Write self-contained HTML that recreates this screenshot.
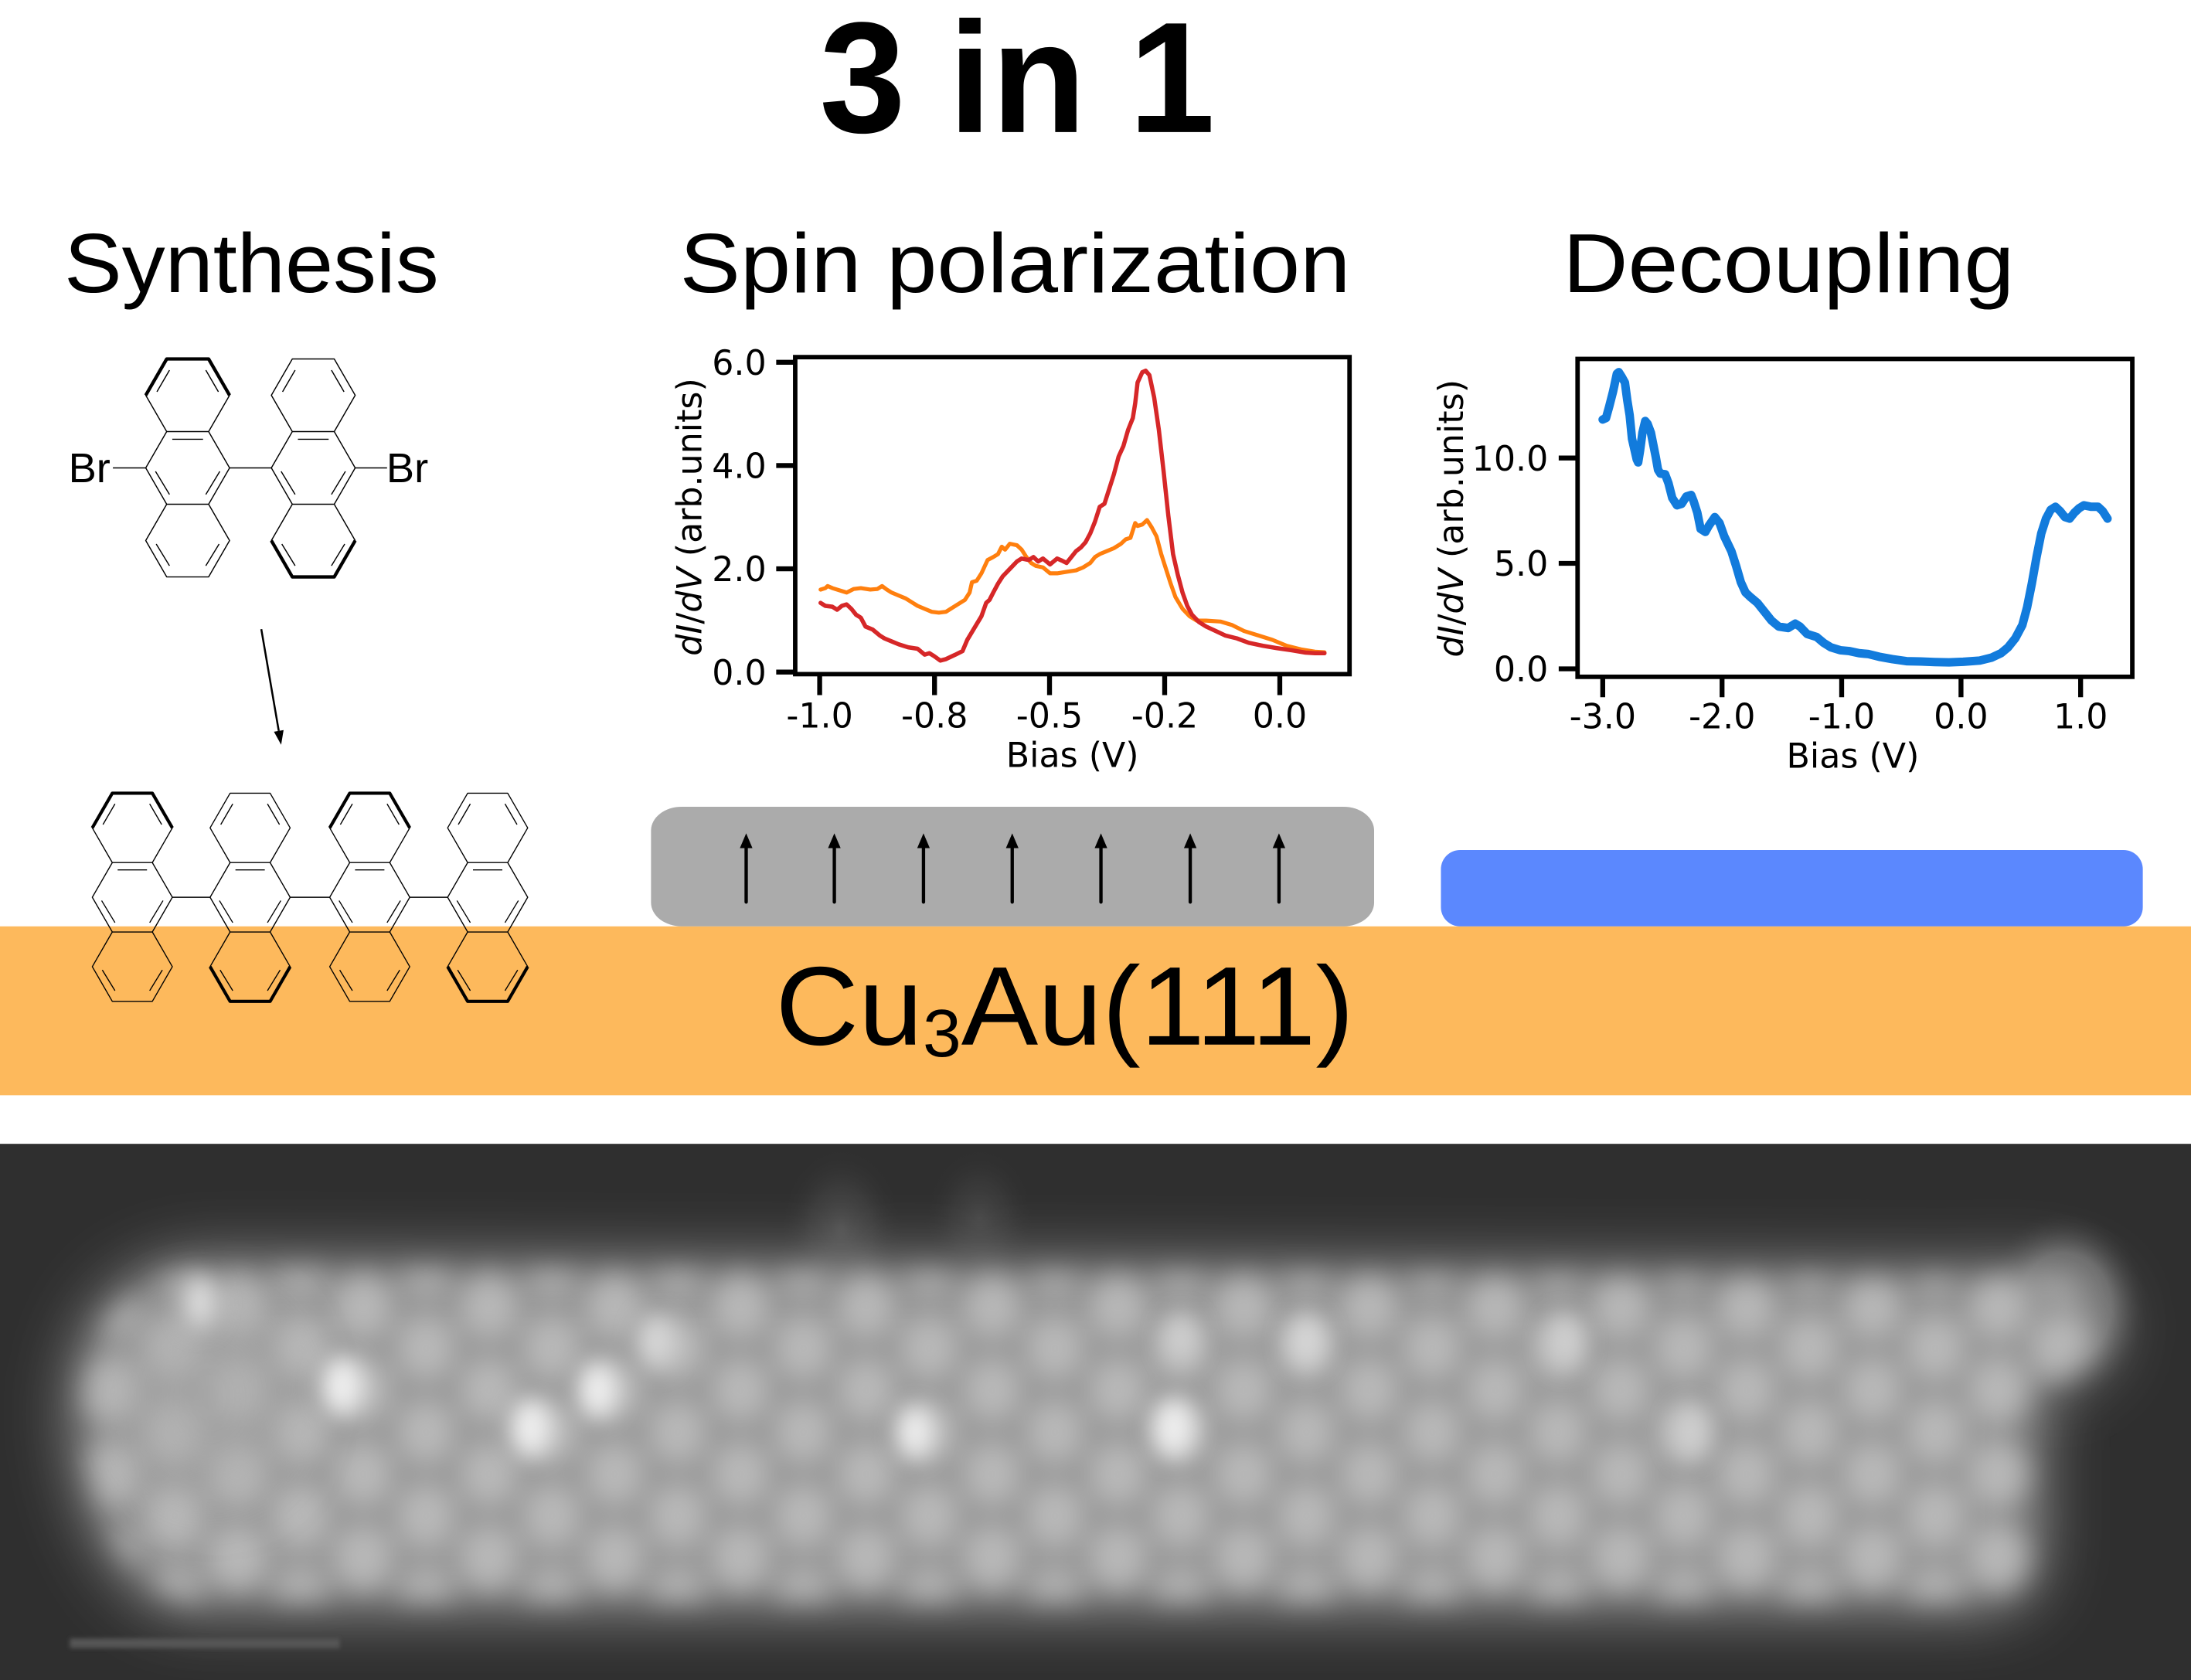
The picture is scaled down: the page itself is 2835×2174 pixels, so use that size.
<!DOCTYPE html>
<html>
<head>
<meta charset="utf-8">
<style>
html,body{margin:0;padding:0;background:#ffffff;}
svg{display:block;}
.tk{font-family:"DejaVu Sans","Liberation Sans",sans-serif;font-size:24.5px;fill:#000;}
.hd{font-family:"Liberation Sans",sans-serif;fill:#000;}
</style>
</head>
<body>
<svg width="2835" height="2174" viewBox="0 0 1568 1202.4" preserveAspectRatio="none">
<defs>
  <filter id="bBig" filterUnits="userSpaceOnUse" x="-100" y="760" width="1770" height="500"><feGaussianBlur stdDeviation="22"/></filter>
  <filter id="bMed" filterUnits="userSpaceOnUse" x="-100" y="760" width="1770" height="500"><feGaussianBlur stdDeviation="10"/></filter>
  <filter id="bSm" filterUnits="userSpaceOnUse" x="-100" y="760" width="1770" height="500"><feGaussianBlur stdDeviation="8"/></filter>
  <filter id="bTiny" filterUnits="userSpaceOnUse" x="0" y="1150" width="400" height="50"><feGaussianBlur stdDeviation="1.5"/></filter>
  <radialGradient id="dimA" cx="0.5" cy="0.5" r="0.5">
    <stop offset="0" stop-color="#4e4e4e" stop-opacity="1"/>
    <stop offset="0.5" stop-color="#444444" stop-opacity="0.6"/>
    <stop offset="1" stop-color="#2f2f2f" stop-opacity="0"/>
  </radialGradient>
  <radialGradient id="dimB" cx="0.5" cy="0.5" r="0.5">
    <stop offset="0" stop-color="#464646" stop-opacity="1"/>
    <stop offset="0.5" stop-color="#3e3e3e" stop-opacity="0.6"/>
    <stop offset="1" stop-color="#2f2f2f" stop-opacity="0"/>
  </radialGradient>
  <radialGradient id="dimC" cx="0.5" cy="0.5" r="0.5">
    <stop offset="0" stop-color="#8a8a8a" stop-opacity="1"/>
    <stop offset="0.55" stop-color="#7a7a7a" stop-opacity="0.7"/>
    <stop offset="1" stop-color="#2f2f2f" stop-opacity="0"/>
  </radialGradient>
  <clipPath id="stmClip"><rect x="0" y="818.6" width="1568" height="384"/></clipPath>
  <clipPath id="ribClip"><path d="M60,1010 C60,955 88,915 145,909 L1415,915 C1460,909 1500,920 1500,950 C1500,980 1465,988 1455,1000 L1455,1108 C1455,1135 1435,1145 1400,1145 L145,1145 C88,1145 60,1068 60,1010 Z"/></clipPath>
  <pattern id="blobs" patternUnits="userSpaceOnUse" x="35" y="905" width="90" height="60">
    <ellipse cx="0" cy="0" rx="22" ry="25" fill="#c0c0c0"/>
    <ellipse cx="90" cy="0" rx="22" ry="25" fill="#c0c0c0"/>
    <ellipse cx="0" cy="60" rx="22" ry="25" fill="#c0c0c0"/>
    <ellipse cx="90" cy="60" rx="22" ry="25" fill="#c0c0c0"/>
    <ellipse cx="45" cy="30" rx="22" ry="25" fill="#c0c0c0"/>
  </pattern>
  <g id="anth" fill="none" stroke="#000" stroke-width="0.8" stroke-linejoin="round">
    <path d="M-15,-78 L15,-78 L30,-52 L15,-26 L30,0 L15,26 L30,52 L15,78 L-15,78 L-30,52 L-15,26 L-30,0 L-15,-26 L-30,-52 Z M-15,-26 L15,-26 M-15,26 L15,26"/>
    <path d="M-22,-54.5 L-13,-70 M22,-54.5 L13,-70 M-11,-20.5 L11,-20.5 M-23,2.5 L-13,19 M23,2.5 L13,19 M-22.5,54.5 L-13,70 M22.5,54.5 L13,70"/>
  </g>
  <path id="boldTop" d="M-30,-52 L-15,-78 L15,-78 L30,-52" fill="none" stroke="#000" stroke-width="2.4" stroke-linejoin="round"/>
  <path id="boldBot" d="M-30,52 L-15,78 L15,78 L30,52" fill="none" stroke="#000" stroke-width="2.4" stroke-linejoin="round"/>
</defs>

<!-- background -->
<rect x="0" y="0" width="1568" height="1202.4" fill="#ffffff"/>

<!-- Title -->
<text class="hd" x="728" y="94.5" font-size="113" font-weight="bold" text-anchor="middle" textLength="283" lengthAdjust="spacingAndGlyphs">3 in 1</text>

<!-- Headings -->
<text class="hd" x="180" y="209" font-size="60" text-anchor="middle" textLength="268" lengthAdjust="spacingAndGlyphs">Synthesis</text>
<text class="hd" x="726.5" y="209" font-size="60" text-anchor="middle" textLength="480" lengthAdjust="spacingAndGlyphs">Spin polarization</text>
<text class="hd" x="1280" y="209" font-size="60" text-anchor="middle" textLength="323" lengthAdjust="spacingAndGlyphs">Decoupling</text>

<!-- Orange substrate band -->
<rect x="0" y="663" width="1568" height="120.9" fill="#FDB95C"/>

<!-- Gray spin box -->
<rect x="465.9" y="577.4" width="517.5" height="85.6" rx="22" ry="17" fill="#ABABAB"/>
<g stroke="#000" stroke-width="2.4" stroke-linecap="round">
  <line x1="534" y1="645.6" x2="534" y2="606"/>
  <line x1="597.1" y1="645.6" x2="597.1" y2="606"/>
  <line x1="660.9" y1="645.6" x2="660.9" y2="606"/>
  <line x1="724.4" y1="645.6" x2="724.4" y2="606"/>
  <line x1="787.9" y1="645.6" x2="787.9" y2="606"/>
  <line x1="851.8" y1="645.6" x2="851.8" y2="606"/>
  <line x1="915.3" y1="645.6" x2="915.3" y2="606"/>
</g>
<g fill="#000">
  <polygon points="534,596.4 529.5,607 538.5,607"/>
  <polygon points="597.1,596.4 592.6,607 601.6,607"/>
  <polygon points="660.9,596.4 656.4,607 665.4,607"/>
  <polygon points="724.4,596.4 719.9,607 728.9,607"/>
  <polygon points="787.9,596.4 783.4,607 792.4,607"/>
  <polygon points="851.8,596.4 847.3,607 856.3,607"/>
  <polygon points="915.3,596.4 910.8,607 919.8,607"/>
</g>

<!-- Blue decoupling box -->
<rect x="1031.2" y="608.4" width="502.3" height="54.6" rx="13.7" ry="13.7" fill="#5B88FE"/>

<!-- Cu3Au(111) -->
<text class="hd" x="555" y="747.6" font-size="80" textLength="414" lengthAdjust="spacingAndGlyphs">Cu<tspan font-size="48" dy="8.5">3</tspan><tspan dy="-8.5">Au(111)</tspan></text>

<!-- Synthesis: precursor -->
<use href="#anth" transform="translate(134.3,334.9)"/>
<use href="#boldTop" transform="translate(134.3,334.9)"/>
<use href="#anth" transform="translate(224.2,334.9)"/>
<use href="#boldBot" transform="translate(224.2,334.9)"/>
<g stroke="#000" stroke-width="0.8">
  <line x1="164.3" y1="334.9" x2="194.2" y2="334.9"/>
  <line x1="80.8" y1="334.9" x2="104.3" y2="334.9"/>
  <line x1="254.2" y1="334.9" x2="277" y2="334.9"/>
</g>
<text class="hd" x="49" y="345.1" font-size="30">Br</text>
<text class="hd" x="276.5" y="345.1" font-size="30">Br</text>

<!-- reaction arrow -->
<line x1="187" y1="450.3" x2="199.5" y2="523.1" stroke="#000" stroke-width="1.4"/>
<polygon points="201.2,533 202.95,522.5 196.05,523.7" fill="#000"/>

<!-- Synthesis: oligomer -->
<g>
  <use href="#anth" transform="translate(94.7,642.2) scale(0.955)"/>
  <use href="#boldTop" transform="translate(94.7,642.2) scale(0.955)"/>
  <use href="#anth" transform="translate(179,642.2) scale(0.955)"/>
  <use href="#boldBot" transform="translate(179,642.2) scale(0.955)"/>
  <use href="#anth" transform="translate(264.6,642.2) scale(0.955)"/>
  <use href="#boldTop" transform="translate(264.6,642.2) scale(0.955)"/>
  <use href="#anth" transform="translate(349,642.2) scale(0.955)"/>
  <use href="#boldBot" transform="translate(349,642.2) scale(0.955)"/>
  <g stroke="#000" stroke-width="0.8">
    <line x1="123.35" y1="642.2" x2="150.35" y2="642.2"/>
    <line x1="207.65" y1="642.2" x2="235.95" y2="642.2"/>
    <line x1="293.25" y1="642.2" x2="320.35" y2="642.2"/>
  </g>
</g>

<!-- ============ Chart 1: Spin polarization ============ -->
<g>
  <g transform="matrix(0.3386,0,0,0.2117,453.5,237.8)" fill="none" stroke-linejoin="round" stroke-linecap="round">
    <path vector-effect="non-scaling-stroke" stroke="#ff7f0e" stroke-width="5.2" d="M395,870 L405,865 L410,858 L420,865 L440,875 L450,880 L465,868 L480,865 L500,870 L515,868 L525,858 L535,870 L545,880 L560,890 L575,900 L590,915 L600,925 L615,935 L630,945 L645,948 L660,945 L670,935 L685,920 L700,905 L710,880 L715,845 L725,840 L735,815 L748,770 L760,760 L770,750 L778,725 L785,735 L795,715 L810,720 L820,735 L830,760 L840,780 L850,790 L865,795 L880,815 L895,815 L915,810 L935,805 L950,795 L965,780 L975,760 L985,750 L1000,740 L1015,730 L1030,715 L1040,700 L1050,695 L1060,645 L1065,655 L1075,650 L1085,635 L1095,660 L1105,690 L1115,750 L1125,800 L1135,850 L1145,895 L1160,935 L1175,960 L1190,975 L1210,975 L1240,978 L1265,990 L1290,1010 L1320,1025 L1350,1040 L1380,1060 L1410,1072 L1440,1080 L1460,1082"/>
    <path vector-effect="non-scaling-stroke" stroke="#d62728" stroke-width="5.5" d="M395,915 L405,925 L420,928 L430,938 L440,925 L450,920 L460,935 L470,955 L480,965 L490,995 L505,1005 L520,1025 L530,1035 L545,1045 L560,1055 L580,1065 L600,1070 L615,1090 L625,1085 L635,1095 L648,1110 L660,1105 L680,1090 L695,1078 L705,1040 L720,1000 L735,960 L745,915 L752,905 L760,880 L770,850 L780,825 L795,800 L810,775 L820,765 L835,770 L845,760 L855,775 L865,765 L880,785 L895,765 L905,772 L915,780 L925,760 L935,740 L945,728 L955,710 L965,680 L975,640 L985,590 L995,580 L1005,530 L1015,480 L1025,420 L1035,385 L1045,330 L1055,290 L1060,240 L1065,170 L1075,135 L1082,130 L1090,145 L1100,220 L1110,330 L1120,470 L1130,620 L1140,750 L1150,820 L1160,880 L1170,925 L1180,955 L1195,980 L1210,995 L1230,1010 L1250,1025 L1275,1035 L1300,1050 L1330,1060 L1360,1068 L1390,1075 L1420,1083 L1440,1085 L1460,1085"/>
  </g>
  <rect x="569.1" y="255.6" width="396.7" height="226.9" fill="none" stroke="#000" stroke-width="3.2"/>
  <path d="M555.5,259.3H569.1 M555.5,333.2H569.1 M555.5,407.1H569.1 M555.5,481H569.1" stroke="#000" stroke-width="3.5"/>
  <path d="M586.6,482.5V497.5 M668.8,482.5V497.5 M751.1,482.5V497.5 M833.5,482.5V497.5 M915.9,482.5V497.5" stroke="#000" stroke-width="3.5"/>
  <text class="tk" x="548.5" y="268.2" text-anchor="end">6.0</text>
  <text class="tk" x="548.5" y="342.1" text-anchor="end">4.0</text>
  <text class="tk" x="548.5" y="416" text-anchor="end">2.0</text>
  <text class="tk" x="548.5" y="489.9" text-anchor="end">0.0</text>
  <text class="tk" x="586.6" y="520.8" text-anchor="middle">-1.0</text>
  <text class="tk" x="668.8" y="520.8" text-anchor="middle">-0.8</text>
  <text class="tk" x="751.1" y="520.8" text-anchor="middle">-0.5</text>
  <text class="tk" x="833.5" y="520.8" text-anchor="middle">-0.2</text>
  <text class="tk" x="915.9" y="520.8" text-anchor="middle">0.0</text>
  <text class="tk" x="767.5" y="549" text-anchor="middle">Bias (V)</text>
  <text class="tk" transform="translate(502,370) rotate(-90)" text-anchor="middle"><tspan font-style="italic">d</tspan><tspan font-style="italic">I</tspan>/<tspan font-style="italic">dV</tspan> (arb.units)</text>
</g>

<!-- ============ Chart 2: Decoupling ============ -->
<g>
  <g transform="matrix(0.3386,0,0,0.2117,1012.2,237.8)" fill="none" stroke-linejoin="round" stroke-linecap="round">
    <path vector-effect="non-scaling-stroke" stroke="#127bdc" stroke-width="11" d="M398,295 L405,290 L412,250 L420,200 L428,140 L432,135 L438,150 L445,170 L450,230 L455,280 L460,360 L465,395 L470,430 L473,440 L477,400 L482,340 L488,300 L493,310 L500,340 L505,380 L510,420 L515,465 L520,478 L530,480 L537,510 L545,560 L555,585 L565,580 L575,555 L585,550 L590,570 L598,610 L605,665 L615,675 L622,655 L635,625 L645,645 L655,690 L670,740 L680,790 L690,845 L700,880 L710,895 L725,915 L740,945 L755,975 L770,995 L790,1000 L805,985 L815,995 L830,1020 L850,1030 L865,1050 L880,1065 L900,1075 L920,1078 L940,1085 L960,1088 L985,1098 L1010,1105 L1040,1112 L1070,1113 L1100,1115 L1130,1116 L1160,1114 L1195,1110 L1220,1100 L1240,1085 L1255,1065 L1270,1035 L1285,990 L1295,930 L1305,850 L1315,760 L1325,680 L1335,630 L1345,600 L1355,590 L1365,605 L1375,625 L1385,630 L1395,610 L1405,595 L1415,585 L1430,590 L1445,590 L1455,605 L1465,630"/>
  </g>
  <rect x="1129" y="256.9" width="397" height="227.5" fill="none" stroke="#000" stroke-width="3.2"/>
  <path d="M1115.5,327.8H1129 M1115.5,403.2H1129 M1115.5,478.7H1129" stroke="#000" stroke-width="3.5"/>
  <path d="M1147,484.4V499 M1232.4,484.4V499 M1318,484.4V499 M1403.4,484.4V499 M1489,484.4V499" stroke="#000" stroke-width="3.5"/>
  <text class="tk" x="1108" y="336.7" text-anchor="end">10.0</text>
  <text class="tk" x="1108" y="412.1" text-anchor="end">5.0</text>
  <text class="tk" x="1108" y="487.6" text-anchor="end">0.0</text>
  <text class="tk" x="1147" y="521.3" text-anchor="middle">-3.0</text>
  <text class="tk" x="1232.4" y="521.3" text-anchor="middle">-2.0</text>
  <text class="tk" x="1318" y="521.3" text-anchor="middle">-1.0</text>
  <text class="tk" x="1403.4" y="521.3" text-anchor="middle">0.0</text>
  <text class="tk" x="1489" y="521.3" text-anchor="middle">1.0</text>
  <text class="tk" x="1326" y="549.4" text-anchor="middle">Bias (V)</text>
  <text class="tk" transform="translate(1047,371) rotate(-90)" text-anchor="middle"><tspan font-style="italic">d</tspan><tspan font-style="italic">I</tspan>/<tspan font-style="italic">dV</tspan> (arb.units)</text>
</g>

<!-- ============ STM image ============ -->
<g clip-path="url(#stmClip)">
  <rect x="0" y="818.6" width="1568" height="384" fill="#2f2f2f"/>
  <!-- dim features above ribbon (gradient, no filter) -->
  <ellipse cx="602" cy="880" rx="45" ry="60" fill="url(#dimA)"/>
  <ellipse cx="701" cy="872" rx="40" ry="52" fill="url(#dimB)"/>
  <ellipse cx="1478" cy="935" rx="60" ry="70" fill="url(#dimC)"/>
  <!-- ribbon glow -->
  <g filter="url(#bBig)">
    <path d="M50,1010 C50,950 80,908 140,900 L1420,907 C1470,900 1512,915 1512,950 C1512,985 1470,990 1462,1000 L1462,1112 C1462,1145 1440,1155 1400,1155 L140,1155 C80,1155 50,1070 50,1010 Z" fill="#8e8e8e"/>
  </g>
  <!-- lobes -->
  <g filter="url(#bMed)">
    <rect x="40" y="880" width="1480" height="290" fill="url(#blobs)" clip-path="url(#ribClip)" opacity="0.85"/>
  </g>
  <!-- left end large soft area -->
  <g filter="url(#bBig)">
    <ellipse cx="150" cy="1000" rx="60" ry="70" fill="#a8a8a8" opacity="0.5"/>
  </g>
  <!-- highlights -->
  <g filter="url(#bSm)" fill="#eeeeee">
    <ellipse cx="245" cy="992" rx="15" ry="21"/>
    <ellipse cx="380" cy="1022" rx="15" ry="21"/>
    <ellipse cx="428" cy="995" rx="14" ry="20"/>
    <ellipse cx="840" cy="1022" rx="15" ry="21"/>
    <ellipse cx="655" cy="1025" rx="13" ry="19"/>
    <ellipse cx="470" cy="960" rx="14" ry="19" fill="#d6d6d6"/>
    <ellipse cx="935" cy="960" rx="14" ry="19" fill="#d6d6d6"/>
    <ellipse cx="1120" cy="960" rx="13" ry="19" fill="#cfcfcf"/>
    <ellipse cx="1210" cy="1025" rx="13" ry="19" fill="#cfcfcf"/>
    <ellipse cx="845" cy="958" rx="12" ry="17" fill="#cfcfcf"/>
    <ellipse cx="143" cy="932" rx="12" ry="19" fill="#dcdcdc"/>
  </g>
  <!-- scale bar -->
  <rect x="50" y="1172.6" width="193" height="7" fill="#555555" filter="url(#bTiny)"/>
</g>
</svg>
</body>
</html>
